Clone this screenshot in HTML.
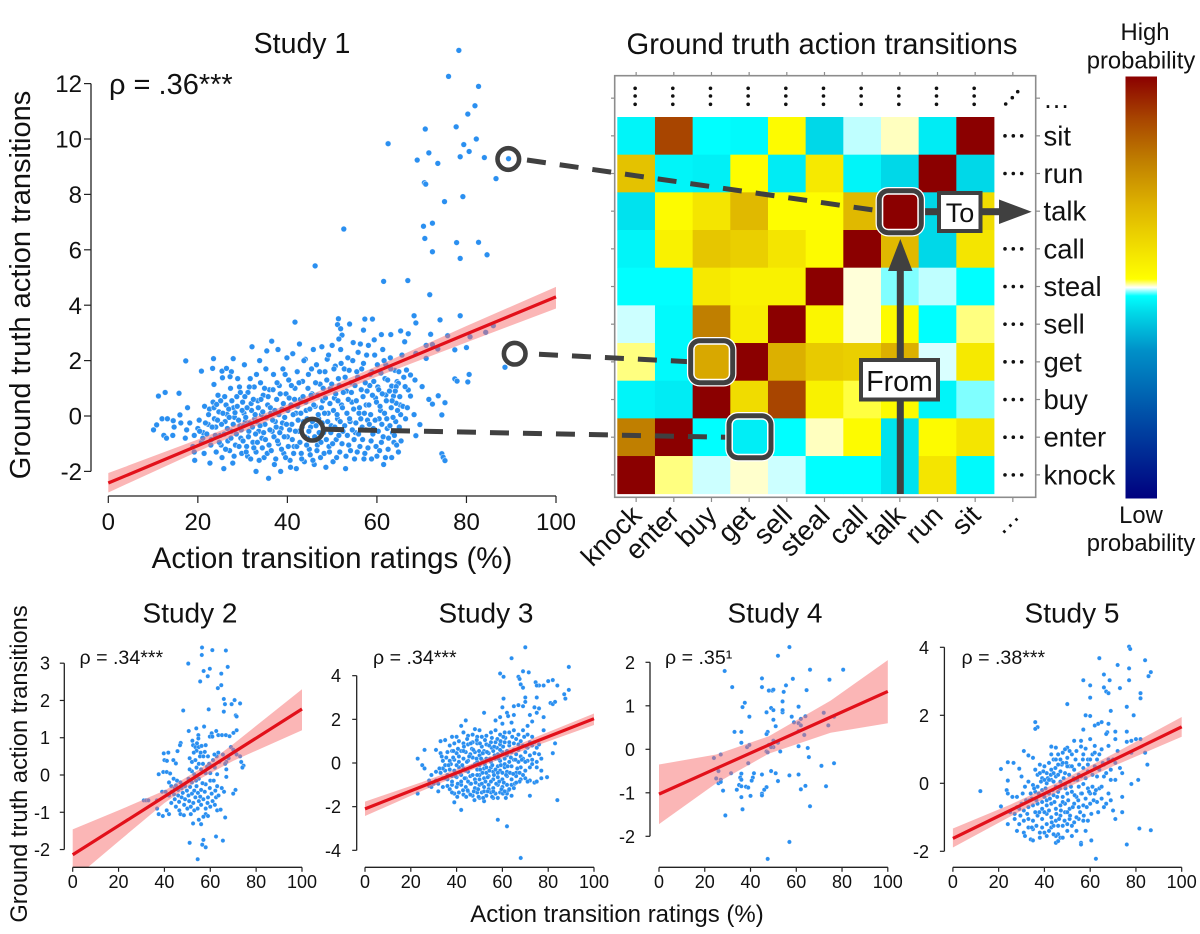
<!DOCTYPE html>
<html lang="en">
<head>
<meta charset="utf-8">
<title>Action transition ratings vs ground truth</title>
<style>
html,body{margin:0;padding:0;background:#fff;width:1200px;height:934px;overflow:hidden}
svg{display:block}
text{font-family:"Liberation Sans",Arial,sans-serif;fill:#111}
</style>
</head>
<body>
<svg id="figure" xmlns="http://www.w3.org/2000/svg" width="1200" height="934" viewBox="0 0 1200 934">
<defs>
<linearGradient id="cbar" x1="0" y1="1" x2="0" y2="0"></linearGradient>
<clipPath id="clip-s2"><rect x="60" y="630" width="250" height="237"/></clipPath>
</defs>
<g id="scatters"></g>
<g id="heat"></g>

<text x="302" y="53" font-size="28.5" text-anchor="middle">Study 1</text>
<text x="109" y="94" font-size="29">ρ = .36***</text>
<text transform="translate(30,285) rotate(-90)" font-size="29" text-anchor="middle">Ground truth action transitions</text>
<text x="332" y="568" font-size="29.5" text-anchor="middle">Action transition ratings (%)</text>
<text x="822" y="54" font-size="29.2" text-anchor="middle">Ground truth action transitions</text>

<text x="190" y="622.5" font-size="28" text-anchor="middle">Study 2</text>
<text x="486" y="622.5" font-size="28" text-anchor="middle">Study 3</text>
<text x="775" y="622.5" font-size="28" text-anchor="middle">Study 4</text>
<text x="1072" y="622.5" font-size="28" text-anchor="middle">Study 5</text>
<text x="79.5" y="664" font-size="19.6">ρ = .34***</text>
<text x="373" y="664" font-size="19.6">ρ = .34***</text>
<text x="665" y="664" font-size="19.6">ρ = .35¹</text>
<text x="961.5" y="664" font-size="19.6">ρ = .38***</text>
<text transform="translate(27,764) rotate(-90)" font-size="23.7" text-anchor="middle">Ground truth action transitions</text>
<text x="617" y="922" font-size="24" text-anchor="middle">Action transition ratings (%)</text>

<rect x="1125.5" y="76.5" width="31.5" height="422" fill="url(#cbar)"/>
<text x="1145" y="40" font-size="23.8" text-anchor="middle">High</text>
<text x="1141" y="68.5" font-size="23.8" text-anchor="middle">probability</text>
<text x="1141" y="523" font-size="23.8" text-anchor="middle">Low</text>
<text x="1141" y="551" font-size="23.8" text-anchor="middle">probability</text>

<g>
  <g fill="none" stroke="#404040" stroke-width="5" stroke-dasharray="19 14">
    <line x1="527" y1="160" x2="878" y2="210.7"/>
    <line x1="539" y1="354.3" x2="690" y2="361.7"/>
    <line x1="325" y1="429.3" x2="728" y2="437.3"/>
  </g>
  <g fill="none" stroke="#404040" stroke-width="4.6">
    <circle cx="508.3" cy="159" r="10.8"/>
    <circle cx="514.7" cy="353.7" r="10.8"/>
    <circle cx="312.3" cy="429.7" r="10.8"/>
  </g>
  <g>
    <rect x="896.8" y="268" width="7" height="226" fill="#404040"/>
    <polygon points="900.3,239 912.5,271 888,271" fill="#404040"/>
  </g>
  <g>
    <rect x="925" y="208.2" width="76" height="7" fill="#404040"/>
    <polygon points="1031.7,211.7 999,199.5 999,224" fill="#404040"/>
  </g>
  <g>
    <rect x="879.3" y="190.7" width="42" height="42" rx="9" fill="#8b0000" stroke="#fff" stroke-width="7.5"/>
    <rect x="879.3" y="190.7" width="42" height="42" rx="9" fill="none" stroke="#404040" stroke-width="5"/>
    <rect x="882.8" y="194.2" width="35" height="35" rx="5" fill="none" stroke="#fff" stroke-width="1"/>
  </g>
  <g>
    <rect x="690.7" y="340.7" width="42" height="42" rx="9" fill="#d8a800" stroke="#fff" stroke-width="7.5"/>
    <rect x="690.7" y="340.7" width="42" height="42" rx="9" fill="none" stroke="#404040" stroke-width="5"/>
    <rect x="694.2" y="344.2" width="35" height="35" rx="5" fill="none" stroke="#fff" stroke-width="1"/>
  </g>
  <g>
    <rect x="729" y="415.7" width="42" height="42" rx="9" fill="#00eef6" stroke="#fff" stroke-width="7.5"/>
    <rect x="729" y="415.7" width="42" height="42" rx="9" fill="none" stroke="#404040" stroke-width="5"/>
    <rect x="732.5" y="419.2" width="35" height="35" rx="5" fill="none" stroke="#fff" stroke-width="1"/>
  </g>
  <g>
    <rect x="861" y="360" width="77" height="39.5" fill="#fff" stroke="#404040" stroke-width="4"/>
    <text x="899.5" y="391" font-size="28.5" text-anchor="middle">From</text>
  </g>
  <g>
    <rect x="939" y="193" width="41.5" height="38" fill="#fff" stroke="#404040" stroke-width="4"/>
    <text x="960" y="222" font-size="27" text-anchor="middle">To</text>
  </g>
</g>
</svg>
<script>
/* ---------- heatmap data ---------- */
const colLabels=["knock","enter","buy","get","sell","steal","call","talk","run","sit"];
const rowLabels=["sit","run","talk","call","steal","sell","get","buy","enter","knock"];
const cellRowSit=[.47,.9,.48,.475,.53,.44,.495,.505,.46,1];
const cellRowRun=[.66,.47,.465,.525,.46,.57,.47,.44,1,.44];
const cellRowTalk=[.45,.53,.58,.68,.525,.525,.68,1,.44,.6];
const cellRowCall=[.47,.55,.65,.63,.58,.53,1,.68,.44,.58];
const cellRowSteal=[.48,.48,.57,.55,.55,1,.503,.49,.495,.48];
const cellRowSell=[.496,.475,.8,.56,1,.54,.503,.53,.48,.51];
const cellRowGet=[.51,.475,.7,1,.7,.64,.63,.7,.497,.57];
const cellRowBuy=[.47,.46,1,.6,.9,.55,.515,.53,.47,.49];
const cellRowEnter=[.8,1,.48,.47,.48,.505,.53,.45,.53,.58];
const cellRowKnock=[1,.51,.496,.504,.496,.48,.48,.45,.58,.475];
const cellValues=[cellRowSit,cellRowRun,cellRowTalk,cellRowCall,cellRowSteal,cellRowSell,cellRowGet,cellRowBuy,cellRowEnter,cellRowKnock];
const colorStopValues=[0,.2,.35,.44,.48,.5,.52,.6,.7,.8,.9,1];
const colorStopColors=["#00007f","#0050a8","#0090c8","#00d8e8","#00ffff","#ffffff","#ffff00","#f0dc00","#dcb000","#c07f00","#a84500","#8b0000"];

/* ---------- scatter data: [rating %, transition z] ---------- */
const study1Points=[[78.3,13.2],[76,12.26],[82.7,11.9],[81.9,11.2],[80.3,10.9],[70.8,10.36],[77.7,10.44],[82.2,10],[79.4,9.8],[62.5,9.83],[80.6,9.55],[71.6,9.5],[78.6,9.36],[84,9.33],[69,9.24],[89.4,9.29],[73.6,9.12],[86.6,8.57],[70.6,8.42],[70.9,8.37],[79.2,7.92],[75.1,7.74],[70.4,6.85],[72.4,6.96],[52.6,6.75],[70.7,6.41],[77.8,6.26],[82.7,6.27],[72.4,5.93],[84.6,5.82],[78.6,5.69],[46.2,5.42],[61.5,4.86],[66.9,4.89],[71.8,4.38],[68.3,3.62],[78.6,3.62],[51.4,3.51],[57.3,3.5],[59,3.5],[68.7,3.36],[74.1,3.47],[41.7,3.39],[53.9,3.32],[51.2,3.3],[51.9,3.15],[52.2,2.92],[51.5,2.78],[61,2.94],[63.1,2.94],[65.3,3.07],[66.2,2.68],[67,2.97],[72,2.95],[75.8,2.9],[80.8,2.86],[84.3,3.02],[86,3.26],[80,2.47],[77.4,2.39],[73.6,2.42],[72.4,2.58],[71,2.55],[71,2.08],[68.7,2.26],[80.6,1.5],[80.3,1.23],[77.4,1.34],[77.9,1.26],[88.6,1.76],[75.2,.48],[73.7,.73],[71.6,.6],[72.4,.43],[74.5,.04],[68.3,.05],[69.6,-.31],[68.7,-.71],[74.5,-1.36],[74.8,-1.49],[75.2,-1.61],[70.1,1.06],[67.5,.72],[67,.94],[66.3,1.06],[68.5,1.3],[67.5,1.48],[66.6,1.66],[64.5,1.24],[64.8,1.18],[63.3,1.08],[64.3,1.06],[65.2,.4],[64.3,.46],[63.7,.72],[62,.76],
[10.1,-.5],[10.8,-.32],[11.2,.72],[12.7,.85],[15.8,.82],[17.3,1.99],[12,-.1],[13.2,-.1],[14.5,-.17],[12.4,-.7],[13,-.8],[14.4,-.7],[16,.04],[17.7,.3],[20.8,1.62],[23.5,2.07],[23.3,1.72],[25.4,1.62],[26.4,1.72],[27.9,2.07],[27.5,1.6],[25.5,1.38],[23.6,1.14],[27.2,1.42],[14.7,-.4],[16.2,-.25],[17.2,-.8],[17.5,-.5],[18.2,-.25],[18.9,-1.1],[19.2,-.7],[19.2,-1.3],[19.3,-1.6],[20,-.45],[20.3,-.15],[20.8,-.95],[21.2,-.6],[21.5,.35],[21.4,-1.35],[22.3,-.3],[22.6,.25],[22.7,-1.7],[23,-.85],[23.4,.5],[23.7,-.1],[24,-.4],[24.1,-1.3],[24.5,.75],[24.7,.15],[25,-.7],[25.2,-1.05],[25.4,-1.5],[25.8,-1.9],[26.1,-.2],[26.3,.4],[26.5,.06],[26.7,-.9],[27.1,-1.25],[27.3,1],[27.5,-.55],[27.8,-1.7],[28,.3],[28.2,-.05],[28.4,-1.05],[28.7,.7],[28.9,1.35],[29.3,1.05],[29.4,-.35],[29.6,-.8],[29.8,-1.35],[30,.5],[30.3,.1],[30.4,1.85],[30.6,-.2],[30.9,-1.1],[31.1,-1.45],[31.2,.85],[31.4,-.55],[31.7,1.35],[32,.2],[32.1,2.5],[32.3,-.95],[32.6,1.05],[32.7,-.1],[33,-2],[33,-1.3],[33.4,.55],[33.6,-.55],[33.8,2],[34,1.2],[34.2,.05],[34.3,-.8],[34.6,.75],[34.8,-1.5],[35,-.3],[35.2,1.7],[35.4,2.35],[35.6,.4],[35.8,-2.25],[35.9,-1.05],[36,.95],[36.3,.1],[36.5,2.7],[36.6,-.55],[36.9,1.5],[37.1,-1.75],[37.3,-.2],[37.6,.6],[37.9,2.4],[38,-1],[38.2,1.1],[38.5,-2],[38.6,-.45],[38.8,.25],[39,1.7],[39.2,-1.35],[39.4,-.05],[39.7,.8],[39.9,2.1],[40,-.75],[40.3,1.3],[40.6,-1.6],[40.8,.4],[41,-.3],[41.2,2.25],[41.5,-1.1],[41.7,1],[41.9,.1],[42,-1.9],[42.2,1.6],[42.5,-.55],[42.7,2.6],[42.9,.6],[43.1,-1.35],[43.4,1.25],[43.6,-.2],[43.8,-1.65],[44,2.05],[44.2,.2],[44.5,-.8],[44.7,1.5],[44.9,-1.2],[45.2,-.4],[45.5,.8],[45.8,2.4],[46,-1.75],[46.2,.35],[46.5,1.85],[46.7,-1.05],[47,-.1],[47.3,1.15],[47.4,-1.5],[47.7,2.5],[47.9,.55],[48.1,-.6],[48.4,1.6],[48.6,-1.85],[48.9,2.05],[49.1,.1],[49.3,-1.1],[49.6,1],[49.8,-.35],[50,2.55],[50.2,-1.65],[50.5,.65],[50.7,1.8],[50.9,-.85],[51.2,-.1],[51.4,1.35],[51.7,-1.3],[51.9,2.4],[52.1,.4],[52.4,-.55],[52.7,1.7],[53,-1.9],[53.2,.9],[53.5,2.1],[53.7,-1.05],[54,-.2],[54.2,1.2],[54.4,.5],[54.7,2.65],[55,-1.55],[55.2,-.6],[55.5,1.6],[55.8,2.3],[56,.1],[56.2,-1.1],[56.5,.95],[56.7,-.4],[57,3.1],[57,1.9],[57.3,-1.35],[57.6,.4],[57.9,-.15],[58.1,2.55],[58.4,1.1],[58.7,-.9],[58.9,1.6],[59.2,-.45],[59.5,2.2],[59.7,.65],[60,-1.45],[60.2,1.05],[60.5,-.1],[60.8,.2],[61,-.95],[61.3,2.4],[61.5,-1.75],[61.8,1.35],[62,1.85],[62.3,-.45],[62.5,-1.2],[63,2.1],[63.2,.3],[63.5,-.6],[63.8,-.95],[64,1.65],[64.2,-.2],[64.8,-1.3],[65,-.4],[65.3,.05],[65.6,2.2]];
const study1DensePoints=[[20.4,-.55],[21.1,-.8],[21.7,-.25],[22,-.65],[22.4,.05],[22.9,-1.05],[23.2,-.4],[23.6,.3],[23.9,-.7],[24.2,.42],[24.4,-.15],[24.8,-.95],[25.1,.55],[25.3,-.3],[25.6,.1],[25.9,-.65],[26,.7],[26.2,-1.2],[26.6,-.45],[26.9,.25],[27,-.05],[27.4,-.8],[27.6,.55],[27.9,-.3],[28.1,-1.45],[28.3,.12],[28.6,-.65],[28.8,.35],[29.1,-.15],[29.2,-1.1],[29.5,.85],[29.7,-.5],[29.9,.2],[30.1,-.9],[30.2,-.35],[30.5,.7],[30.7,-.05],[30.8,-1.3],[31,.3],[31.3,-.75],[31.5,1.05],[31.6,-.25],[31.8,-1.55],[31.9,.45],[32.2,-.4],[32.4,.6],[32.5,-1.15],[32.8,.05],[32.9,-.65],[33.1,1.5],[33.2,-.2],[33.3,-.95],[33.5,.3],[33.7,-1.6],[33.9,-.35],[34.1,.6],[34.4,-1.15],[34.5,.15],[34.7,-.6],[34.9,1],[35.1,-.85],[35.3,-.05],[35.5,-1.35],[35.7,.7],[36.1,-.5],[36.2,.3],[36.4,-1.25],[36.7,-.15],[36.8,.95],[37,-.75],[37.2,.2],[37.4,-1.55],[37.5,-.4],[37.7,1.2],[37.8,-.9],[38.1,.05],[38.3,-.6],[38.4,.8],[38.7,-1.2],[38.9,-.25],[39.1,.45],[39.3,-.75],[39.5,1.5],[39.6,-1.5],[39.8,-.3],[40.1,.2],[40.2,-1.1],[40.4,.65],[40.5,-.5],[40.7,-1.85],[40.9,1.1],[41.1,-.85],[41.3,.05],[41.4,-1.35],[41.6,.6],[41.8,-.55],[42.1,-1.1],[42.3,.35],[42.4,-.15],[42.6,1.2],[42.8,-.95],[43,.1],[43.2,-1.55],[43.3,-.4],[43.5,.7],[43.7,2],[43.9,-.75],[44.1,.5],[44.3,-1.05],[44.4,-.1],[44.6,1],[44.8,-.55],[45,.25],[45.1,-1.4],[45.3,.75],[45.4,1.7],[45.6,-.2],[45.7,-1.6],[45.9,.4],[46.1,-.75],[46.3,1.2],[46.4,-.35],[46.6,-1.25],[46.8,.75],[46.9,.05],[47.1,-.6],[47.2,1.6],[47.5,-.95],[47.6,.3],[47.8,-.25],[48,1],[48.2,-1.35],[48.3,.1],[48.5,.65],[48.7,-.85],[48.8,1.3],[49,-.2],[49.2,2.2],[49.4,-1.3],[49.5,.45],[49.7,-.6],[49.9,1.15],[50.1,-1],[50.3,.2],[50.4,1.7],[50.6,-.4],[50.8,.8],[51,-1.5],[51.1,.05],[51.3,.55],[51.5,-.7],[51.6,1.1],[51.8,-.2],[52,1.9],[52.2,-1],[52.3,.3],[52.5,.85],[52.8,-.35],[52.9,1.4],[53.1,-1.45],[53.3,.1],[53.4,-.7],[53.6,.6],[53.8,1.65],[53.9,-.1],[54.1,-1.25],[54.3,.85],[54.5,-.5],[54.6,2],[54.8,.25],[54.9,-.85],[55.1,1.1],[55.3,-.25],[55.4,.55],[55.6,-1.3],[55.7,1.4],[55.9,-.65],[56.1,.3],[56.3,2.6],[56.4,-.1],[56.6,1.7],[56.8,-.85],[56.9,.7],[57.1,-1.55],[57.2,.1],[57.4,1.2],[57.5,-.5],[57.7,2.2],[57.8,.9],[58,-1.15],[58.2,.4],[58.3,-.3],[58.5,1.5],[58.6,.05],[58.8,-1.55],[59,.75],[59.1,-.65],[59.3,1.25],[59.4,2.75],[59.6,-.15],[59.8,-1.1],[59.9,.5],[60.1,1.85],[60.3,-.55],[60.4,.95],[60.6,-1.25],[60.7,.35],[60.9,1.55],[61.1,-.3],[61.2,.8],[61.4,-.75],[61.6,2],[61.7,.1],[61.9,-1.5],[62.1,.55],[62.2,-.1],[62.4,1.3],[62.6,-.8],[62.8,.9],[62.9,-.35],[63.1,1.7],[63.3,-1.5],[63.4,.55],[63.6,-.05],[63.9,-.7],[64.1,.9],[64.4,-1.05],[64.6,.2],[64.9,1.6],[65.1,.7],[65.4,-.9],[65.8,.35],[66,1.4],[66.4,-.1],[66.8,.3]];
const study2Points=[[56.4,3.42],[60.9,3.35],[66.8,3.34],[56.3,3.22],[50.4,2.99],[67.6,2.9],[59.8,2.85],[57.1,2.79],[64.8,2.72],[58.9,2.65],[55.6,2.51],[64.8,2.41],[63.3,2.33],[65.9,2.04],[70.6,2.01],[69.3,1.9],[73,1.92],[66.4,1.9],[59.3,1.76],[48.2,1.73],[65.9,1.7],[71.1,1.6],[71.5,1.57],[53.9,1.25],[57.3,1.3],[50.6,1.18],[62.6,1.18],[71.5,1.2],[60.6,1.12],[54.8,1.07],[63.5,1.07],[65.1,1.07],[66.8,1.07],[68.4,1.04],[70.1,1.13],[54.8,.98],[59.8,1.03],[60.9,1.03],[47.1,.86],[46.8,.8],[45.7,.64],[39.7,.58],[41.7,.6],[40,.4],[41.1,.38],[43.9,.4],[45,.31],[52.5,.8],[53.5,.75],[55,.75],[54,.65],[58,.8],[63.5,.6],[69,.75],[70,.68],[71,.6],[71.5,.55],[73,.5],[74.5,.25],[74,.2],[73.5,.35],[67,.35],[66.5,.3],[68,.45],[67,.15],[51,.45],[52,.35],[53.5,.4],[55.5,.5],[57,.5],[59,.5],[60.5,.25],[62,.2],[64,.35],[52,.1],[54,.2],[56,.15],[58,.05],[60,.05],[63,.02],[67,-.05],[70,-.5],[71,-.4],[66,-.45],[37.5,.02],[39.5,.08],[41,.08],[42.5,.04],[44,-.1],[45.5,-.15],[47,-.2],[42,-.2],[43,-.3],[44.5,-.35],[46,-.4],[47.5,-.35],[49,-.3],[50.5,-.1],[52,-.2],[54,-.3],[55,-.1],[56,-.4],[58,-.25],[60,-.15],[61.5,-.15],[63,-.3],[65,-.35],[39,-.45],[40.5,-.45],[42,-.55],[43,-.75],[44.5,-.65],[46,-.55],[47.5,-.6],[49,-.65],[50.5,-.55],[52,-.5],[53.5,-.6],[55,-.7],[57,-.65],[59,-.6],[61,-.7],[62.5,-.6],[31,-.68],[32,-.68],[33,-.68],[36.7,-.68],[36.8,-.9],[37.5,-1.05],[39.3,-1.1],[41,-.95],[42,-1.05],[45,-.85],[46.5,-.95],[47,-1.05],[48.5,-1.08],[50,-.9],[51.5,-.85],[53,-.95],[54.5,-.9],[56,-.8],[58,-.9],[60,-.85],[62,-.8],[63,-.95],[64.5,-.93],[58,-1.05],[59,-1.1],[51.5,-1.05],[52.5,-1.3],[55,-1.2],[56,-1.32],[57,-1.12],[66.5,-1.14],[62.5,-1.65],[65.5,-1.76],[57,-1.74],[51,-1.82],[56.5,-1.87],[58,-1.94],[54.5,-2.26],
[43.2,-.45],[44.2,-.52],[45,-.28],[46.4,-.72],[48,-.48],[48.6,-.8],[49.8,-.42],[50.8,-.7],[51.2,-.32],[52.6,-.75],[53,-.42],[53.8,-.15],[54.6,-.48],[55.6,-.58],[56.6,-.22],[57.6,-.45],[58.8,-.75],[59.8,-.35],[60.6,-.5],[62.2,-.42],[63.6,-.55],[51,.15],[53,.02],[55,.3],[56.8,.3],[58.6,.22],[61.2,.4],[62.8,.5],[52.8,.6],[56.2,.78],[57.6,.62],[52.2,.92],[54.2,.85],[55.8,.6],[59.5,.3],[61.8,.55],[65.5,.55]];
const study3Points=[[70,5.3],[64,4.8],[89,4.4],[59,4.1],[60.5,3.95],[67,3.95],[69,4.2],[71.5,4.15],[67.5,3.85],[74.5,3.7],[76,3.55],[78,3.55],[80,3.75],[82,3.8],[84,3.55],[68,3.6],[69,3.45],[75,3.55],[87,3.15],[89,3.35],[87.5,2.95],[60.5,2.95],[70,3],[75,3],[70,2.8],[81,2.75],[82,2.7],[83,2.8],[65,2.6],[67,2.65],[69,2.6],[74,2.55],[76,2.5],[60,2.55],[62,2.3],[65,2.2],[52,2.3],[59,2.1],[62.5,2.15],[72,2.2],[75,2.3],[78,2.1],[44,1.95],[57,1.95],[60,1.8],[64,1.85],[73,1.9],[71,1.7],[78,1.5],[48,1.55],[50,1.5],[42,1.7],[38,1.2],[40,1.2],[43,1.4],[45,1.25],[47,1.3],[49,1.2],[51,1.2],[53,1.25],[55,1.4],[57,1.5],[59,1.3],[61,1.4],[63,1.4],[65,1.5],[67,1.3],[69,1.5],[71,1.3],[73,1.2],[33,1],[35,1.05],[37,.8],[39,.9],[41,1],[43,.9],[45,.85],[47,.95],[49,.9],[51,.75],[53,.85],[55,.95],[57,.95],[59,.85],[61,.95],[63,.8],[65,.9],[67,.85],[69,.8],[71,.7],[73,.8],[75,.7],[26,.6],[23,.2],[25,-.1],[26,-.25],[31,.6],[33,.45],[33.5,.3],[36,.5],[38,.55],[40,.45],[42,.55],[44,.5],[46,.4],[48,.5],[50,.35],[52,.55],[54,.45],[56,.55],[58,.4],[60,.5],[62,.35],[64,.5],[66,.4],[68,.3],[70,.5],[72,.35],[74,.45],[76,.4],[77,.2],[82,.45],[83,.9],[35,-.1],[37,.1],[39,.15],[41,.05],[43,.2],[45,.1],[47,.25],[49,.05],[51,.15],[53,.2],[55,.05],[57,.2],[59,.1],[61,.2],[63,.05],[65,.15],[67,.05],[69,.2],[71,.1],[73,-.05],[75,-.2],[77,-.35],[33,-.45],[35,-.35],[37,-.3],[39,-.35],[41,-.2],[43,-.25],[45,-.4],[47,-.15],[49,-.3],[50,-.1],[52,-.25],[53,-.45],[55,-.2],[56,-.4],[58,-.15],[59,-.35],[61,-.2],[62,-.4],[64,-.15],[66,-.45],[68,-.2],[70,-.35],[72,-.2],[31,-.8],[28,-.8],[28,-1.05],[29,-1.1],[32,-.95],[34,-.7],[36,-.75],[38,-.6],[40,-.65],[42,-.55],[44,-.7],[46,-.6],[48,-.75],[50,-.55],[52,-.7],[54,-.6],[56,-.75],[58,-.65],[60,-.75],[62,-.6],[64,-.75],[66,-.6],[68,-.75],[70,-.7],[72,-.8],[74,-.9],[75,-.85],[77,-.7],[79.5,-.65],[23,-1.4],[32,-1.3],[34,-1.1],[36,-1.05],[38,-1],[40,-1.1],[42,-1],[44,-1.1],[46,-.95],[48,-1.15],[50,-1],[52,-1.1],[54,-1],[56,-1.15],[58,-1],[60,-1.1],[62,-1],[65,-1.15],[39,-1.4],[41,-1.35],[43,-1.45],[45,-1.3],[47,-1.5],[49,-1.35],[51,-1.35],[53,-1.5],[55,-1.35],[57,-1.4],[59,-1.35],[62,-1.4],[64,-1.5],[72,-1.5],[39,-1.8],[42,-2.15],[52,-1.75],[50,-1.6],[56,-1.6],[61.5,-1.6],[84,-1.7],[58,-2.6],[62,-2.9],[68,-4.35]];
const study3DensePoints=[[36,-.55],[37.5,-.05],[38,-.85],[38.5,.25],[39.5,-.6],[40,-.1],[40.5,-.95],[41,.3],[41.5,-.45],[42,-.85],[42.5,-.1],[43,.55],[43.5,-.7],[44,-.35],[44.5,.05],[44.8,-1.25],[45,-.85],[45.5,.3],[46,-.2],[46.3,-.95],[46.7,.65],[47,-.55],[47.5,-1.3],[48,-.05],[48.3,-.9],[48.7,.2],[49,-.55],[49.4,-1.2],[49.8,.55],[50,-.75],[50.3,-.3],[50.7,.2],[51,-.95],[51.3,-.45],[51.6,.45],[52,-1.3],[52.3,-.05],[52.6,-.85],[53,-.2],[53.3,.5],[53.6,-.65],[54,-1.2],[54.3,-.35],[54.6,.2],[55,-.85],[55.3,.7],[55.6,-.1],[56,-1.3],[56.3,-.55],[56.6,.35],[57,-.3],[57.3,-.95],[57.6,.7],[58,-.45],[58.3,.2],[58.6,-.85],[59,.6],[59.3,-.1],[59.6,-1.2],[60,-.45],[60.3,.75],[60.6,-.9],[61,-.05],[61.3,1.15],[61.6,-.55],[62,.55],[62.3,-.15],[62.7,-1.25],[63,.95],[63.3,-.45],[63.7,.25],[64,-1],[64.3,1.2],[64.7,-.5],[65,.6],[65.4,-.95],[65.7,.15],[66,1.1],[66.5,-.25],[67,.6],[67.5,-.85],[68,1],[68.5,.15],[69,-.55],[69.5,1.2],[70,.05],[70.5,.75],[71,-.85],[72,.95],[73,.15],[74,.95],[75,.05],[76,.85],[43.2,.75],[44.6,1.1],[46.2,.9],[47.3,.6],[48.8,1.05],[50.2,.9],[51.4,.45],[52.4,1.05],[54.2,.8],[55.4,1.15],[56.4,.75],[57.8,1.1],[59.2,1],[60.4,1.2],[37,-1.2],[38,-1.35],[40.3,-1.55],[42.8,-1.25],[44.2,-1.55],[46,-1.45],[47.8,-1.7],[49.6,-1.55],[51.6,-1.6],[53.6,-1.3],[55.5,-1.55],[58,-1.6],[60.2,-1.4],[61,-1.3],[63,-1.2],[66,-.9],[67.5,-.45],[35,-.7],[34,-.25],[36.5,-.1],[38.6,.55],[40.6,.65],[30,-.95],[29,-.55],[31,-.4],[32.5,-.25],[34,.1],[35.5,.25]];
const study4Points=[[57,2.35],[52,2.15],[28.7,1.8],[66,1.83],[80.5,1.83],[45,1.63],[58.5,1.62],[74.5,1.6],[32,1.43],[45,1.43],[55.5,1.47],[48,1.35],[49.5,1.35],[50,1.37],[54.5,1.32],[64.5,1.36],[54,1.1],[37.5,1.07],[36.5,.97],[49,.95],[50,.9],[54,.85],[47,.85],[61,.98],[54,.9],[39.5,.75],[50,.68],[58,.75],[64,.76],[72,.84],[76.5,.75],[59,.62],[61,.6],[62,.7],[62,.55],[51,.53],[74,.55],[33,.4],[36,.4],[47.5,.4],[47,.35],[61,.42],[63.5,.33],[36,.15],[38.5,.05],[39.5,.1],[48,.1],[50,.2],[52,.15],[50,.05],[49,.05],[61,.07],[65,.03],[47,-.05],[53,-.05],[27,-.12],[24,-.2],[47.5,-.07],[65.5,-.18],[39,-.32],[71,-.38],[76.5,-.32],[26,-.5],[31.5,-.55],[49,-.5],[51,-.55],[36,-.56],[41.5,-.55],[45,-.58],[57,-.6],[61,-.58],[25,-.67],[27,-.7],[35.5,-.65],[36,-.7],[41,-.65],[40.5,-.72],[52,-.73],[26,-.78],[27,-.75],[35,-.82],[36,-.85],[38,-.86],[39,-.88],[47,-.87],[46,-.93],[64,-.84],[73,-.85],[28,-.95],[34,-.93],[45,-1.02],[45,-1.06],[62,-.92],[36,-1.1],[40,-1.07],[36.5,-1.38],[66,-1.31],[29,-1.52],[57,-2.13],[47.5,-2.52]];
const study5Points=[[77,4.02],[77.5,3.95],[64,3.68],[84,3.62],[72,3.48],[77,3.38],[86.5,3.27],[85.5,3.15],[66,3.2],[68.5,3.03],[57,3.03],[60,2.88],[77,3.03],[66,2.82],[73,2.8],[67,2.7],[68,2.65],[82,2.65],[82,2.5],[60,2.52],[50,2.33],[76,2.25],[69,2.13],[58,2],[60,1.98],[79,2],[36,1.8],[37,1.65],[36,1.6],[68,1.75],[62,1.7],[63.5,1.75],[65,1.8],[57,1.58],[67.5,1.5],[71,1.52],[76,1.52],[67,1.45],[60,1.3],[53,1.25],[56,1.25],[71,1.3],[76,1.22],[78,1.25],[80,1.3],[82,1.3],[43,1.08],[45,1.05],[50,1.05],[56,1.08],[58,1.02],[62,1.1],[65,1],[68,1.1],[72,.95],[78,.9],[84,.9],[31,.95],[33,.82],[35,.75],[24,.62],[26.5,.6],[21,.42],[29,.43],[36,.4],[38,.55],[40,.5],[42,.6],[44,.7],[46,.85],[48,.9],[50,.75],[52,.85],[54,.95],[57,.85],[59,.7],[61,.85],[63,.7],[66,.55],[68,.7],[71,.6],[73,.45],[85,.55],[39,.15],[41,.3],[43,.4],[45,.2],[47,.35],[49,.3],[51,.5],[53,.4],[55,.25],[57,.45],[59,.35],[62,.5],[64,.4],[66,.2],[69,.4],[71,.1],[74,.3],[81,.1],[78,-.02],[24,.08],[30,.2],[33,.05],[35,-.05],[37,-.1],[39,-.2],[41,.0],[43,.1],[45,-.1],[47,.05],[49,-.05],[51,.05],[53,.1],[55,-.1],[57,-.02],[59,-.15],[61,-.1],[64,-.15],[21,-.68],[12,-.23],[23.5,-.2],[24,-.3],[26,-.4],[28,-.4],[30,-.6],[32,-.5],[34,-.3],[36,-.25],[38,-.35],[40,-.4],[42,-.3],[44,-.35],[46,-.25],[48,-.4],[50,-.3],[52,-.25],[54,-.4],[56,-.3],[58,-.45],[60,-.3],[62,-.3],[65,-.45],[69,-.5],[74,-.4],[25,-.85],[27,-.9],[29,-.75],[31,-.8],[33,-.7],[35,-.65],[37,-.6],[39,-.75],[41,-.65],[43,-.6],[45,-.75],[47,-.65],[49,-.6],[51,-.75],[53,-.6],[55,-.7],[57,-.65],[60,-.6],[63,-.55],[67,-.6],[70,-.8],[74,-.85],[24,-1.2],[27,-1.05],[29,-1.2],[31,-1.1],[33,-1.05],[35,-1.1],[37,-.95],[39,-1.05],[41,-.9],[43,-1],[45,-1.1],[47,-.95],[49,-.85],[51,-1.05],[53,-1.15],[55,-1.05],[57,-1.1],[59,-1.1],[71,-1.05],[28,-1.4],[31,-1.45],[33,-1.3],[35,-1.35],[38,-1.45],[40,-1.45],[43,-1.3],[44,-1.25],[46,-1.5],[48,-1.25],[50,-1.4],[52,-1.55],[54,-1.4],[58,-1.4],[31.5,-1.55],[34,-1.65],[35,-1.68],[38,-1.6],[41,-1.55],[45,-1.55],[47,-1.6],[45,-1.75],[46,-1.7],[56,-1.75],[56,-1.8],[60.5,-1.68],[76,-1.8],[81.5,-1.33],[86.5,-1.38],[62.5,-2.22]];
const study5DensePoints=[[34.5,-.45],[35.5,-.15],[36.5,-.5],[37.5,-.3],[37.8,-.85],[38.5,.05],[39,-.55],[39.5,.35],[40,-.85],[40.5,-.15],[41,-.5],[41.5,.15],[42,-.8],[42.4,-.45],[42.8,.25],[43.2,-1.15],[43.6,-.2],[44,.05],[44.4,-.55],[44.8,.45],[45.2,-.9],[45.6,-.4],[46,.25],[46.4,-1.05],[46.8,-.15],[47.2,-.8],[47.6,.55],[48,-.55],[48.4,.15],[48.8,-1.1],[49.2,-.15],[49.6,.6],[50,-.85],[50.4,-.5],[50.8,.25],[51.2,-.95],[51.6,-.1],[52,.5],[52.4,-.7],[52.8,.15],[53.2,-.35],[53.6,.7],[54,-1],[54.4,.1],[54.8,-.5],[55.2,.55],[55.6,-.85],[56,.2],[56.4,-.3],[56.8,.7],[57.2,-.95],[58,.15],[58.5,-.7],[59,.55],[59.5,-.25],[60,.7],[60.5,-.9],[61,.25],[61.5,-.5],[62,.9],[62.5,-.2],[63,.2],[63.5,-.85],[64,.85],[65,-.1],[65.5,.6],[66,-.7],[67,.3],[68,-.3],[69,.1],[70,.7],[28,-.7],[29.5,-.95],[30.5,-.3],[31.5,-.1],[32.5,-.9],[33.5,-.5],[34.5,-1.3],[36,-.85],[36.5,-1.25],[37,.25],[38,.3],[40,.1],[42,.1],[44,.3],[46,.55],[48,.6],[50,.5],[43,.85],[45,.7],[47,.7],[49,1],[51,.95],[44,-1.5],[48,-1.6],[39,-1.3],[41,-1.2],[42,-1.4],[46,-1.25],[50,-1.2],[52,-1.25]];

const study1LineY=[-2.42,-1.07,.27,1.61,2.96,4.3],study1BandX=[0,20,40,60,80,100],study1Upper=[-2.06,-.85,.41,1.8,3.25,4.66],study1Lower=[-2.76,-1.28,.13,1.42,2.66,3.88];
const study2LineY=[-2.14,-1.36,-.58,.01,.6,1.77],study2BandX=[0,20,40,55,70,100],study2Upper=[-1.46,-.95,-.42,.14,.83,2.3],study2Lower=[-2.82,-1.78,-.75,-.12,.38,1.2];
const study3LineY=[-2.1,-1.07,-.04,1,2.03],study3BandX=[0,25,50,75,100],study3Upper=[-1.77,-.87,.1,1.2,2.27],study3Lower=[-2.43,-1.27,-.18,.8,1.74];
const study4LineY=[-1.03,-.44,.1,.74,1.33],study4BandX=[0,25,48,75,100],study4Upper=[-.35,-.12,.3,1.12,2.05],study4Lower=[-1.72,-.78,-.1,.38,.6];
const study5LineY=[-1.62,-.8,-.14,.68,1.66],study5BandX=[0,25,45,70,100],study5Upper=[-1.33,-.63,0,.86,1.95],study5Lower=[-1.89,-.98,-.28,.5,1.37];

const xTickLabels=[0,20,40,60,80,100];
const study1YTicks=[-2,0,2,4,6,8,10,12];
const study2YTicks=[-2,-1,0,1,2,3];
const study3YTicks=[-4,-2,0,2,4];
const study4YTicks=[-2,-1,0,1,2];
const study5YTicks=[-2,0,2,4];

const NS='http://www.w3.org/2000/svg';
function mk(tag,attrs,parent){const e=document.createElementNS(NS,tag);for(const k in attrs)e.setAttribute(k,attrs[k]);parent.appendChild(e);return e;}

/* colormap */
function hexRgb(h){return [parseInt(h.slice(1,3),16),parseInt(h.slice(3,5),16),parseInt(h.slice(5,7),16)];}
function colorFor(v){
  let i=0;while(i<colorStopValues.length-2&&v>colorStopValues[i+1])i++;
  const t=Math.min(1,Math.max(0,(v-colorStopValues[i])/(colorStopValues[i+1]-colorStopValues[i])));
  const a=hexRgb(colorStopColors[i]),b=hexRgb(colorStopColors[i+1]);
  return 'rgb('+a.map((c,j)=>Math.round(c+(b[j]-c)*t)).join(',')+')';
}
const cbar=document.getElementById('cbar');
colorStopValues.forEach((v,i)=>{mk('stop',{offset:v,'stop-color':colorStopColors[i]},cbar);});

/* heatmap */
const heat=document.getElementById('heat');
const cellSize=37.67,gridX=617.3,gridY=117;
const colX=i=>gridX+cellSize*(i+.5);
const rowY=i=>gridY+cellSize*(i+.5);
cellValues.forEach((row,r)=>row.forEach((v,c)=>{
  const el=mk('rect',{x:gridX+c*cellSize,y:gridY+r*cellSize,width:cellSize+.4,height:cellSize+.4,fill:colorFor(v)},heat);
  
  
}));
const frame=mk('rect',{x:614.7,y:75.7,width:421,height:421.6,fill:'none',stroke:'#8c8c8c','stroke-width':1.6},heat);


for(let i=0;i<11;i++){
  const x=colX(i),y=rowY(i-1);
  mk('line',{x1:x,y1:72,x2:x,y2:75.7,stroke:'#8c8c8c','stroke-width':1.2},heat);
  mk('line',{x1:x,y1:497.3,x2:x,y2:502,stroke:'#8c8c8c','stroke-width':1.2},heat);
  mk('line',{x1:611,y1:y,x2:614.7,y2:y,stroke:'#8c8c8c','stroke-width':1.2},heat);
  mk('line',{x1:1035.7,y1:y,x2:1040,y2:y,stroke:'#8c8c8c','stroke-width':1.2},heat);
}
colLabels.forEach((name,i)=>{
  const x=colX(i);
  [88.3,96,104.3].forEach(y=>mk('circle',{cx:x-1,cy:y,r:1.8,fill:'#111'},heat));
  const t=mk('text',{transform:'translate('+(x+7)+',517) rotate(-45)','font-size':27.5,'text-anchor':'end'},heat);
  t.textContent=name;
  
  
});
rowLabels.forEach((name,i)=>{
  const y=rowY(i);
  [1005,1013.3,1021.7].forEach(x=>mk('circle',{cx:x,cy:y,r:1.8,fill:'#111'},heat));
  const t=mk('text',{x:1043.5,y:y+9.5,'font-size':27.5},heat);
  t.textContent=name;
  
  
});
[[1005.7,104],[1012.3,97.7],[1017.7,91.7]].forEach(p=>mk('circle',{cx:p[0],cy:p[1],r:1.8,fill:'#111'},heat));
const topEll=mk('text',{x:1043,y:108,'font-size':27},heat);
topEll.textContent='…';


const botEll=mk('text',{transform:'translate(1021,517) rotate(-45)','font-size':27,'text-anchor':'end'},heat);
botEll.textContent='…';



/* scatter panels */
function panel(cfg){
  const root=document.getElementById('scatters');
  const g=mk('g',{},root);
  
  
  const X=v=>cfg.x0+(cfg.x100-cfg.x0)*v/100;
  const Y=v=>cfg.y0-cfg.unit*v;
  cfg.points.forEach(p=>{
    const c=mk('circle',{cx:X(p[0]),cy:Y(p[1]),r:cfg.r,fill:'#2a8ff0',stroke:'#fff','stroke-width':cfg.big?.6:.35,'stroke-opacity':.75},g);
    
    
  });
  const up=cfg.bandX.map((x,i)=>X(x)+','+Y(cfg.upper[i]));
  const lo=cfg.bandX.map((x,i)=>X(x)+','+Y(cfg.lower[i])).reverse();
  const band=mk('polygon',{points:up.concat(lo).join(' '),fill:'rgba(247,110,110,.5)'},g);
  
  
  if(cfg.clip)band.setAttribute('clip-path',cfg.clip);
  const line=mk('polyline',{points:cfg.bandX.map((x,i)=>X(x)+','+Y(cfg.lineY[i])).join(' '),fill:'none',stroke:'#e2101a','stroke-width':3.2},g);
  
  
  /* x axis */
  const xa=mk('line',{x1:cfg.x0,y1:cfg.axisY,x2:cfg.x100,y2:cfg.axisY,stroke:'#222','stroke-width':1.3},g);
  
  
  xTickLabels.forEach(v=>{
    mk('line',{x1:X(v),y1:cfg.axisY,x2:X(v),y2:cfg.axisY+cfg.tick,stroke:'#222','stroke-width':1.2},g);
    const t=mk('text',{x:X(v),y:cfg.xLabelY,'font-size':cfg.font,'text-anchor':'middle'},g);
    t.textContent=v;
    
    
  });
  /* y axis */
  const lo2=cfg.yTicks[0],hi2=cfg.yTicks[cfg.yTicks.length-1];
  const ya=mk('line',{x1:cfg.axisX,y1:Y(hi2),x2:cfg.axisX,y2:Y(lo2),stroke:'#222','stroke-width':1.3},g);
  
  
  cfg.yTicks.forEach(v=>{
    mk('line',{x1:cfg.axisX-cfg.tick,y1:Y(v),x2:cfg.axisX,y2:Y(v),stroke:'#222','stroke-width':1.2},g);
    const t=mk('text',{x:cfg.yLabelX,y:Y(v)+cfg.font*.36,'font-size':cfg.font,'text-anchor':'end'},g);
    t.textContent=v;
    
    
  });
}
panel({name:'study-1-scatter',big:true,points:study1Points.concat(study1DensePoints),r:2.9,x0:108.3,x100:556,y0:416,unit:27.7,axisY:496,axisX:91,tick:7,xLabelY:530,yLabelX:82,font:24,yTicks:study1YTicks,bandX:study1BandX,upper:study1Upper,lower:study1Lower,lineY:study1LineY});
panel({name:'study-2-scatter',points:study2Points,r:2.15,x0:72.7,x100:302,y0:775,unit:37.27,axisY:867.3,axisX:64.3,tick:4.5,xLabelY:888,yLabelX:50,font:18,yTicks:study2YTicks,bandX:study2BandX,upper:study2Upper,lower:study2Lower,lineY:study2LineY,clip:'url(#clip-s2)'});
panel({name:'study-3-scatter',points:study3Points.concat(study3DensePoints),r:2.15,x0:365,x100:594,y0:763,unit:21.83,axisY:867.3,axisX:356.7,tick:4.5,xLabelY:888,yLabelX:341,font:18,yTicks:study3YTicks,bandX:study3BandX,upper:study3Upper,lower:study3Lower,lineY:study3LineY});
panel({name:'study-4-scatter',points:study4Points,r:2.15,x0:659,x100:887.8,y0:749.3,unit:43.5,axisY:867.3,axisX:650,tick:4.5,xLabelY:888,yLabelX:635,font:18,yTicks:study4YTicks,bandX:study4BandX,upper:study4Upper,lower:study4Lower,lineY:study4LineY});
panel({name:'study-5-scatter',points:study5Points.concat(study5DensePoints),r:2.15,x0:952.9,x100:1181.7,y0:783.3,unit:34,axisY:867.3,axisX:944.4,tick:4.5,xLabelY:888,yLabelX:929,font:18,yTicks:study5YTicks,bandX:study5BandX,upper:study5Upper,lower:study5Lower,lineY:study5LineY});
</script>
</body>
</html>
